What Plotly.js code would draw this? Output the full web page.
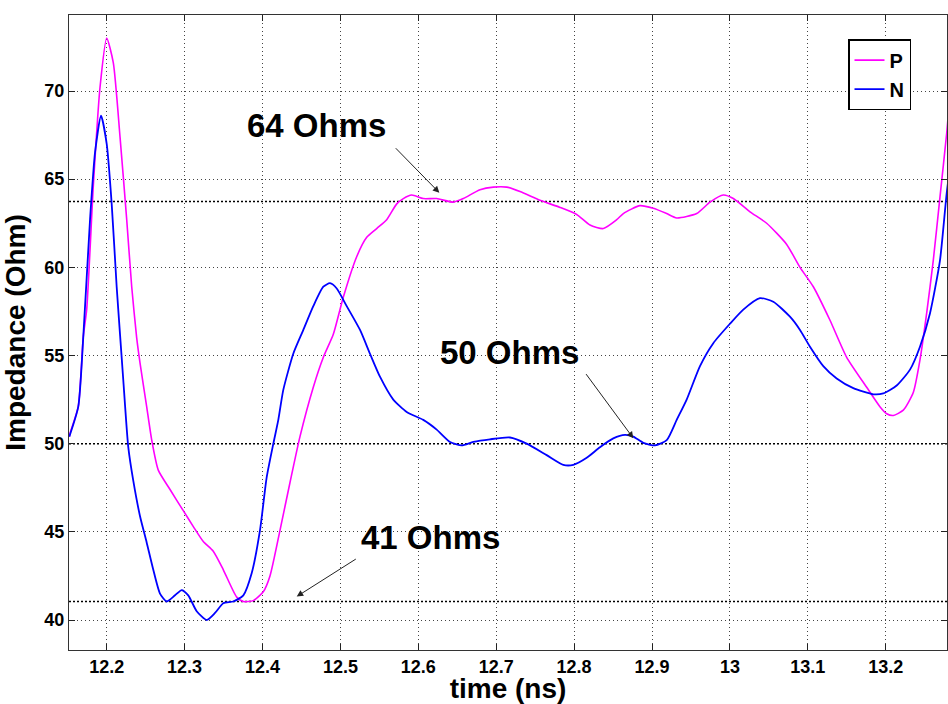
<!DOCTYPE html>
<html>
<head>
<meta charset="utf-8">
<script src="https://cdn.plot.ly/plotly-3.0.1.min.js"></script>
<style>html,body{margin:0;padding:0;background:#fff;}#chart{width:948px;height:704px;}</style>
</head>
<body>
<div id="chart"></div>
<script>
// ---- data ----
const timeP = [12.152,12.153,12.1635,12.170,12.1743,12.1828,12.1914,12.200,12.2085,12.2171,12.2257,12.2321,12.2385,12.2427,12.2513,12.2578,12.2662,12.2813,12.2983,12.3112,12.3240,12.3368,12.3497,12.3669,12.3754,12.3882,12.4010,12.4096,12.4225,12.4353,12.4481,12.4652,12.4781,12.4909,12.5037,12.5209,12.5338,12.5466,12.5594,12.5723,12.5808,12.5915,12.6064,12.6236,12.6449,12.6578,12.6792,12.6963,12.7135,12.7306,12.7562,12.7819,12.8033,12.8204,12.8375,12.8547,12.8632,12.8846,12.9017,12.9189,12.9317,12.9574,12.9745,12.9915,13.0044,13.0258,13.0472,13.0729,13.0900,13.1071,13.1285,13.1499,13.1756,13.1926,13.2013,13.2098,13.2226,13.2354,13.2440,13.2526,13.2611,13.2697,13.2783,13.2850];
const impP  = [50.4,50.6,52.1,56.1,57.6,64.6,70.2,73.0,71.6,67.4,62.7,58.9,56.0,54.6,52.1,50.2,48.5,47.4,46.2,45.3,44.45,43.9,42.85,41.3,41.05,41.1,41.6,42.5,45.1,47.8,50.4,53.2,54.9,56.2,58.3,60.6,61.7,62.2,62.7,63.6,63.9,64.1,63.9,63.9,63.7,63.9,64.4,64.55,64.55,64.3,63.8,63.4,63.0,62.4,62.2,62.7,63.05,63.5,63.35,63.05,62.8,63.05,63.7,64.1,63.9,63.15,62.5,61.3,60.0,58.9,57.0,54.9,53.2,52.1,51.7,51.6,51.9,52.9,54.75,57.4,60.4,64.0,67.6,71.0];

const timeN = [12.152,12.1635,12.170,12.1786,12.1850,12.1927,12.200,12.2064,12.2128,12.2171,12.2213,12.2277,12.2341,12.2427,12.2513,12.2598,12.2684,12.2770,12.2877,12.2963,12.3047,12.3155,12.3284,12.3390,12.3497,12.3625,12.3754,12.3861,12.3968,12.4054,12.4139,12.4203,12.4267,12.4395,12.4524,12.4652,12.4781,12.4867,12.4953,12.5081,12.5252,12.5380,12.5508,12.5679,12.5851,12.6064,12.6236,12.6407,12.6557,12.6706,12.6920,12.7177,12.7391,12.7648,12.7861,12.7990,12.8162,12.8332,12.8503,12.8653,12.8760,12.8888,12.9039,12.9189,12.9317,12.9445,12.9616,12.9787,13.0001,13.0172,13.0386,13.0557,13.0771,13.0900,13.1028,13.1199,13.1371,13.1584,13.1841,13.1969,13.2141,13.2312,13.2440,13.2569,13.2697,13.2783,13.2850];
const impN  = [50.4,52.1,56.1,62.7,66.5,68.6,67.0,63.6,58.9,56.2,53.6,49.8,47.9,45.9,44.4,42.85,41.5,41.05,41.4,41.7,41.4,40.5,40.0,40.4,40.95,41.05,41.4,42.65,45.1,48.1,50.0,51.35,53.05,55.1,56.45,57.8,58.9,59.1,58.8,57.8,56.45,55.1,53.8,52.5,51.8,51.35,50.8,50.1,49.9,50.1,50.25,50.35,50.0,49.35,48.8,48.8,49.2,49.8,50.3,50.5,50.4,50.05,49.9,50.2,51.35,52.5,54.4,55.7,56.8,57.6,58.25,58.05,57.2,56.45,55.5,54.4,53.7,53.15,52.8,52.85,53.3,54.2,55.5,57.4,60.4,64.2,66.5];

const refLevels = [63.73, 50.0, 41.05];
const refLabels = ['64 Ohms', '50 Ohms', '41 Ohms'];
const labelPos  = [[12.4696, 68.07], [12.7168, 55.18], [12.6154, 44.69]];
const arrowTail = [[12.5692, 66.84], [12.814, 54.03], [12.5217, 43.51]];
const arrowHead = [[12.627, 64.23], [12.876, 50.31], [12.4439, 41.33]];

const xTicks = [12.2,12.3,12.4,12.5,12.6,12.7,12.8,12.9,13.0,13.1,13.2];
const xTickText = ['12.2','12.3','12.4','12.5','12.6','12.7','12.8','12.9','13','13.1','13.2'];
const yTicks = [40,45,50,55,60,65,70];

const xRange = [12.1516, 13.2787];
const yRange = [38.30, 74.31];

const FONT = 'Liberation Sans, Arial, Helvetica, sans-serif';

const traces = [];
refLevels.forEach(v => {
  traces.push({x: xRange, y: [v, v], mode: 'lines', showlegend: false, hoverinfo: 'skip',
    line: {color: '#000', width: 1.5, dash: '2px,2px'}});
});
traces.push({x: timeP, y: impP, name: 'P', mode: 'lines', line: {color: '#FF00FF', width: 1.6, shape: 'spline', smoothing: 0.6}});
traces.push({x: timeN, y: impN, name: 'N', mode: 'lines', line: {color: '#0000FF', width: 1.8, shape: 'spline', smoothing: 0.6}});

const annotations = [];
refLabels.forEach((t, i) => {
  annotations.push({x: labelPos[i][0], y: labelPos[i][1], xref: 'x', yref: 'y', text: '<b>' + t + '</b>',
    showarrow: false, font: {family: FONT, size: 33, color: '#000'}});
  annotations.push({x: arrowHead[i][0], y: arrowHead[i][1], xref: 'x', yref: 'y',
    ax: arrowTail[i][0], ay: arrowTail[i][1], axref: 'x', ayref: 'y', text: '',
    showarrow: true, arrowhead: 2, arrowsize: 1.3, arrowwidth: 1, arrowcolor: '#222', standoff: 0, startstandoff: 0});
});

const layout = {
  width: 948, height: 704,
  margin: {l: 69, r: 1, t: 15, b: 54, pad: 0},
  paper_bgcolor: '#fff', plot_bgcolor: '#fff',
  font: {family: FONT, color: '#000'},
  showlegend: true,
  legend: {x: 0.959, y: 0.962, xanchor: 'right', yanchor: 'top', bgcolor: '#fff',
    bordercolor: '#000', borderwidth: 1.5, font: {family: FONT, size: 20, color: '#000', weight: 'bold'},
    tracegroupgap: 0, itemwidth: 30},
  xaxis: {range: xRange, tickvals: xTicks, ticktext: xTickText, ticks: 'inside', ticklen: 6, tickcolor: '#222',
    showline: true, linecolor: '#333', linewidth: 1, mirror: 'ticks', zeroline: false,
    showgrid: true, gridcolor: '#444', gridwidth: 1, griddash: '1px,3px',
    tickfont: {family: FONT, size: 18, color: '#000', weight: 'bold'},
    title: {text: '<b>time (ns)</b>', font: {family: FONT, size: 28, color: '#000'}}},
  yaxis: {range: yRange, tickvals: yTicks, ticks: 'inside', ticklen: 6, tickcolor: '#222',
    showline: true, linecolor: '#333', linewidth: 1, mirror: 'ticks', zeroline: false,
    showgrid: true, gridcolor: '#444', gridwidth: 1, griddash: '1px,3px',
    tickfont: {family: FONT, size: 18, color: '#000', weight: 'bold'},
    title: {text: '<b>Impedance (Ohm)</b>', font: {family: FONT, size: 28, color: '#000'}}},
  annotations: annotations
};

Plotly.newPlot('chart', traces, layout, {displayModeBar: false, staticPlot: true});
</script>
</body>
</html>
